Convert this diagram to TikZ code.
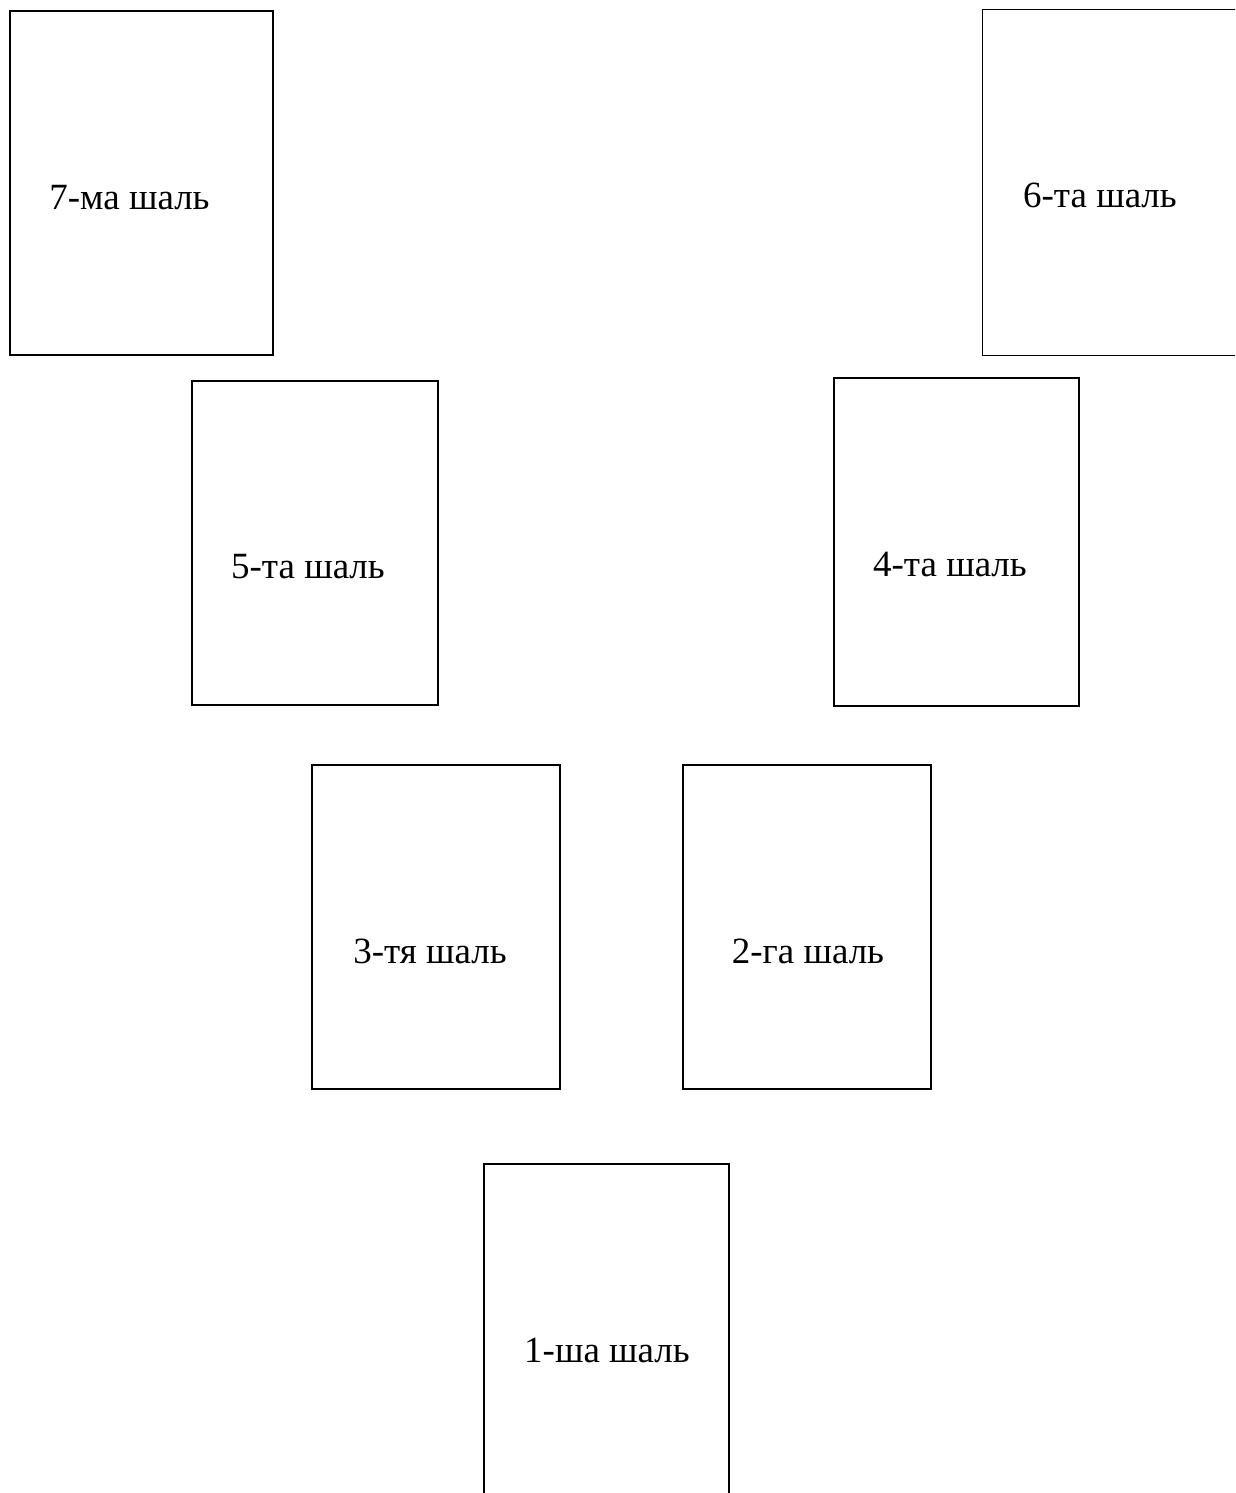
\documentclass[tikz,border=0pt]{standalone}
\usepackage{fontspec}
\setmainfont{Liberation Serif}
\tikzset{
  box/.style={draw=black, line width=1.6pt, fill=white, inner sep=0pt, outer sep=0pt},
  lbl/.style={inner sep=0pt, anchor=base, font=\fontsize{37}{44}\selectfont}
}
\begin{document}
\begin{tikzpicture}[x=1pt,y=-1pt]
\useasboundingbox (0,0) rectangle (1235,1493);
\clip (0,0) rectangle (1235,1493);
\fill[white] (0,0) rectangle (1235,1493);
% boxes
\node[box, minimum width=263pt, minimum height=344pt] (b7) at (141.5,183) {};
\node[box, minimum width=262pt, minimum height=346pt] (b6) at (1113.5,182.5) {};
\node[box, minimum width=246pt, minimum height=324pt] (b5) at (315,543) {};
\node[box, minimum width=245pt, minimum height=328pt] (b4) at (956.5,542) {};
\node[box, minimum width=248pt, minimum height=324pt] (b3) at (436,927) {};
\node[box, minimum width=248pt, minimum height=324pt] (b2) at (807,927) {};
\node[box, minimum width=245pt, minimum height=346pt] (b1) at (606.5,1337) {};
% labels
\node[lbl] (t7) at (129.5,209) {7-ма шаль};
\node[lbl] (t6) at (1100,207) {6-та шаль};
\node[lbl] (t5) at (308,578) {5-та шаль};
\node[lbl] (t4) at (950,576) {4-та шаль};
\node[lbl] (t3) at (430,963) {3-тя шаль};
\node[lbl] (t2) at (808,963) {2-га шаль};
\node[lbl] (t1) at (607,1362) {1-ша шаль};
\end{tikzpicture}
\end{document}
